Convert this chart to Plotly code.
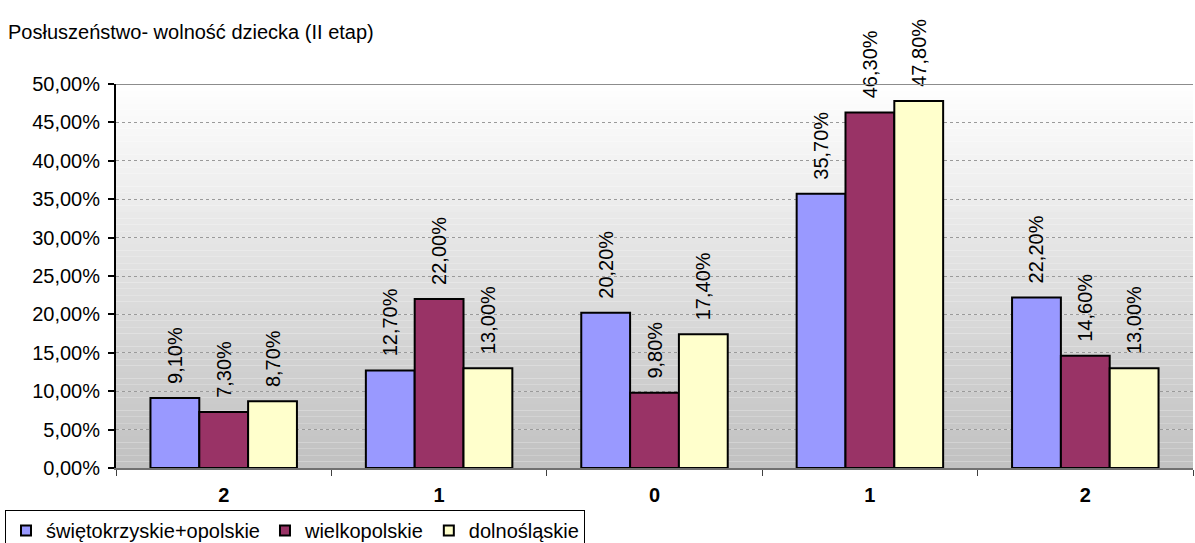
import plotly.graph_objects as go

# Scale points of the obedience–freedom question
categories = ["2", "1", "0", "1", "2"]
series_names = ["świętokrzyskie+opolskie", "wielkopolskie", "dolnośląskie"]
swietokrzyskie_opolskie = [9.1, 12.7, 20.2, 35.7, 22.2]
wielkopolskie = [7.3, 22.0, 9.8, 46.3, 14.6]
dolnoslaskie = [8.7, 13.0, 17.4, 47.8, 13.0]
y_ticks = [0, 5, 10, 15, 20, 25, 30, 35, 40, 45, 50]

colors = ["#9999FF", "#993366", "#FFFFCC"]
FONT = "Arial, Liberation Sans, sans-serif"
FS = 20


def pl_pct(v):
    return f"{v:.2f}".replace(".", ",") + "%"


x_pos = list(range(len(categories)))
fig = go.Figure()
for name, vals, col in zip(series_names,
                           [swietokrzyskie_opolskie, wielkopolskie, dolnoslaskie],
                           colors):
    fig.add_trace(go.Bar(
        x=x_pos, y=vals, name=name, showlegend=False,
        marker=dict(color=col, line=dict(color="black", width=2)),
        # leading no-break spaces keep the rotated label off the bar top
        text=["\u00a0\u00a0" + pl_pct(v) for v in vals],
        textposition="outside", textangle=-90,
        textfont=dict(size=FS, color="black", family=FONT),
        cliponaxis=False, constraintext="none",
    ))
    # legend entry with a small square swatch
    fig.add_trace(go.Scatter(
        x=[None], y=[None], mode="markers", name=name,
        marker=dict(symbol="square", size=10, color=col,
                    line=dict(color="black", width=2)),
    ))

# vertical gradient background of the plot area (white -> grey)
n_bands = 60
for i in range(n_bands):
    t = (i + 0.5) / n_bands
    g = round(255 - (255 - 192) * (1 - t))
    fig.add_shape(type="rect", xref="paper", yref="y",
                  x0=0, x1=1, y0=50 * i / n_bands, y1=50 * (i + 1) / n_bands,
                  fillcolor=f"rgb({g},{g},{g})", line=dict(width=0),
                  layer="below")

# top border line of the plot area
fig.add_shape(type="line", xref="paper", yref="y", x0=0, x1=1, y0=50, y1=50,
              line=dict(color="#8c8c8c", width=2), layer="above")

fig.update_layout(
    width=1195, height=543,
    margin=dict(l=116, r=2, t=84, b=75, autoexpand=False),
    paper_bgcolor="white", plot_bgcolor="rgba(0,0,0,0)",
    barmode="group", bargap=0.32, bargroupgap=0,
    font=dict(family=FONT, size=FS, color="black"),
    title=dict(text="Posłuszeństwo- wolność dziecka (II etap)",
               x=8 / 1195, xanchor="left", xref="container",
               y=1 - 32 / 543, yanchor="middle", yref="container",
               font=dict(size=FS, family=FONT, color="black")),
    showlegend=True,
    legend=dict(orientation="h", x=5 / 1195, xanchor="left", xref="container",
                y=1 - 510 / 543, yanchor="top", yref="container",
                bordercolor="black", borderwidth=1, bgcolor="white",
                font=dict(size=FS, family=FONT, color="black"),
                itemwidth=30, traceorder="normal", tracegroupgap=0),
    xaxis=dict(range=[-0.5, 4.5], tickvals=x_pos, ticktext=categories,
               tickfont=dict(size=FS, family=FONT, color="black", weight="bold"),
               ticks="", showgrid=False, zeroline=False,
               showline=True, linecolor="#707070", linewidth=2,
               minor=dict(tick0=0.5, dtick=1, ticks="outside", ticklen=6,
                          tickcolor="#404040", tickwidth=1, showgrid=False),
               ticklabelstandoff=8),
    yaxis=dict(range=[0, 50], tickvals=y_ticks,
               ticktext=[pl_pct(v) for v in y_ticks],
               ticks="outside", ticklen=6, tickcolor="black", tickwidth=2,
               showline=True, linecolor="black", linewidth=2,
               showgrid=True, gridcolor="#9a9a9a", griddash="dot", gridwidth=1,
               zeroline=False, ticklabelstandoff=4),
)

fig.write_html("out.html")
